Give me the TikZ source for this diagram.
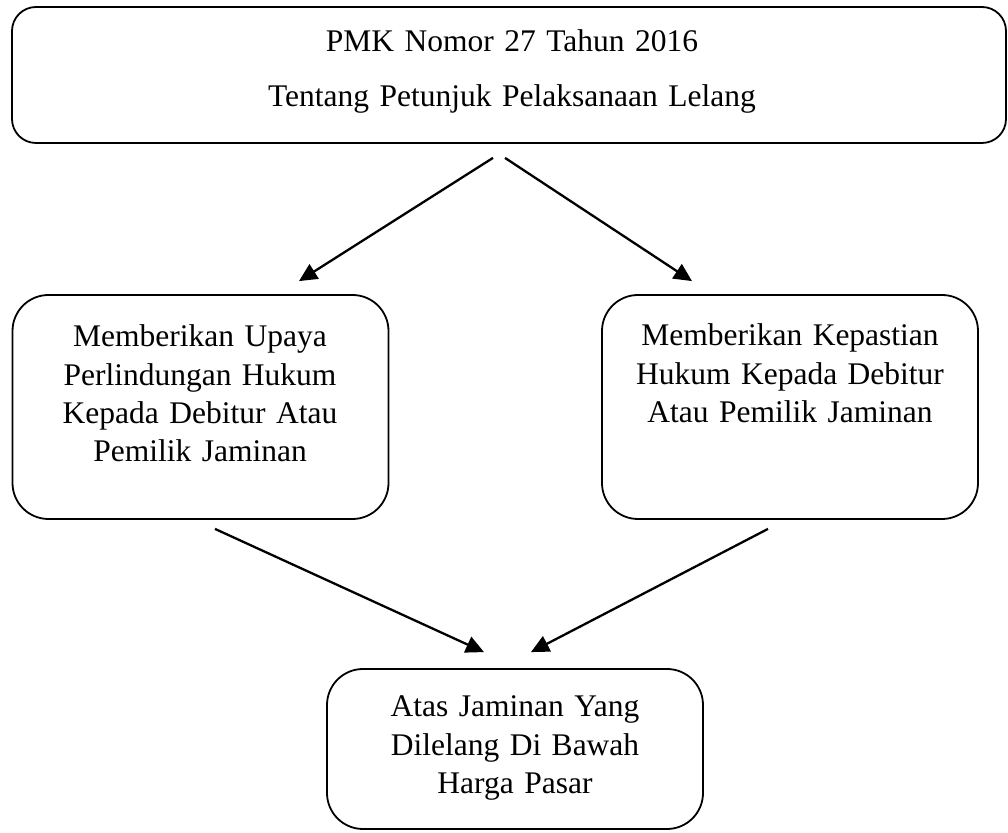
\documentclass[tikz,border=0pt]{standalone}
\usepackage{fontspec}
\setmainfont{Liberation Serif}
\usetikzlibrary{arrows.meta}

\begin{document}
\begin{tikzpicture}[x=0.5pt, y=-0.5pt,
		box/.style={draw, line width=0.9pt, rounded corners=18pt, minimum width=188pt, minimum height=112pt, inner sep=0pt},
		txt/.style={anchor=base, align=center, text width=180pt, font=\fontsize{15.75}{19.15}\selectfont},
		arr/.style={line width=1.15pt, -{Triangle[length=9pt, width=8.5pt]}}]
		
		\useasboundingbox (0,0) rectangle (1008,833);
		
		% Boxes
		\node[box, minimum width=497pt, minimum height=68pt, rounded corners=12pt] (pmk) at (509,75) {};
		\node[box] (upaya) at (200.5,407) {};
		\node[box] (kepastian) at (790,407) {};
		\node[box, minimum height=80pt] (harga) at (515,749) {};
		
		% Texts (first baseline)
		\node[txt, text width=480pt, font=\fontsize{15.75}{27.5}\selectfont] (pmktxt) at (512,52)
		{PMK Nomor 27 Tahun 2016\\Tentang Petunjuk Pelaksanaan Lelang};
		\node[txt] (upayatxt) at (200,347)
		{Memberikan Upaya\\Perlindungan Hukum\\Kepada Debitur Atau\\Pemilik Jaminan};
		\node[txt] (kepastiantxt) at (790,346)
		{Memberikan Kepastian\\Hukum Kepada Debitur\\Atau Pemilik Jaminan};
		\node[txt] (hargatxt) at (515,717)
		{Atas Jaminan Yang\\Dilelang Di Bawah\\Harga Pasar};
		
		% Arrows
		\draw[arr] ([xshift=-8pt, yshift=-7pt]pmk.south) -- ([xshift=49.25pt, yshift=6.5pt]upaya.north);
		\draw[arr] ([xshift=-2pt, yshift=-7pt]pmk.south) -- ([xshift=-49pt, yshift=6.5pt]kepastian.north);
		\draw[arr] ([xshift=7.25pt, yshift=-4.5pt]upaya.south) -- ([xshift=-15.5pt, yshift=8pt]harga.north);
		\draw[arr] ([xshift=-11pt, yshift=-4.5pt]kepastian.south) -- ([xshift=8pt, yshift=8pt]harga.north);
	\end{tikzpicture}
\end{document}
